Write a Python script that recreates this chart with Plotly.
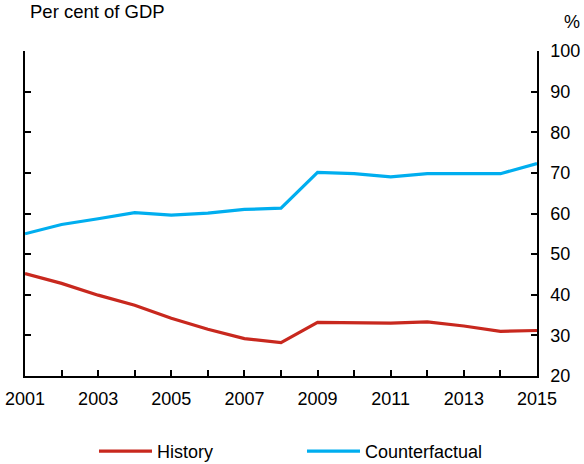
import plotly.graph_objects as go

years = list(range(2001, 2016))
history = [45.2, 42.8, 39.9, 37.4, 34.2, 31.5, 29.2, 28.2, 33.2, 33.1, 33.0, 33.3, 32.3, 31.0, 31.2]
counterfactual = [55.0, 57.3, 58.7, 60.2, 59.6, 60.1, 61.0, 61.3, 70.1, 69.8, 69.0, 69.8, 69.8, 69.8, 72.3]
year_labels = [str(y) if (y - 2001) % 2 == 0 else "" for y in years]

font = "Liberation Sans, Arial, sans-serif"

L, R, T, B = 25, 47, 51, 88
W, H = 584, 464
pw = W - L - R
ph = H - T - B

fig = go.Figure()

fig.add_trace(go.Scatter(
    x=years, y=history, mode="lines", name="History",
    line=dict(color="#c8281e", width=3.2)
))
fig.add_trace(go.Scatter(
    x=years, y=counterfactual, mode="lines", name="Counterfactual",
    line=dict(color="#00aeef", width=3.2)
))
# invisible trace so the right axis is drawn
fig.add_trace(go.Scatter(x=[2001], y=[None], yaxis="y2", showlegend=False, hoverinfo="skip"))

axis_common = dict(
    range=[20, 100], dtick=10, tick0=20,
    ticks="inside", ticklen=6, tickcolor="black", tickwidth=1.5,
    showline=True, linecolor="black", linewidth=1.5,
    showgrid=False, zeroline=False, automargin=False,
)

fig.update_layout(
    width=W, height=H,
    margin=dict(l=L, r=R, t=T, b=B, autoexpand=False),
    plot_bgcolor="white", paper_bgcolor="white",
    font=dict(family=font, size=18, color="black"),
    showlegend=True,
    xaxis=dict(
        range=[2001, 2015], tickvals=years, ticktext=year_labels,
        ticks="inside", ticklen=6, tickcolor="black", tickwidth=1.5,
        showline=True, linecolor="black", linewidth=1.5,
        showgrid=False, zeroline=False, automargin=False,
        ticklabelstandoff=6,
    ),
    yaxis=dict(showticklabels=False, **axis_common),
    yaxis2=dict(overlaying="y", side="right", ticklabelstandoff=8, **axis_common),
    legend=dict(
        orientation="h", x=0.541, xanchor="center", y=-0.175, yanchor="top",
        itemwidth=53, entrywidth=140, font=dict(size=18),
    ),
    annotations=[
        dict(text="Per cent of GDP", x=(28 - L) / pw, y=(H - B - 12) / ph,
             xref="paper", yref="paper", xanchor="left", yanchor="middle",
             showarrow=False, font=dict(size=18.5)),
        dict(text="%", x=(572 - L) / pw, y=(H - B - 22) / ph,
             xref="paper", yref="paper", xanchor="center", yanchor="middle",
             showarrow=False, font=dict(size=18)),
    ],
)

fig.write_html("out.html", config={"displayModeBar": False},
               post_script="document.body.style.margin='0';")
